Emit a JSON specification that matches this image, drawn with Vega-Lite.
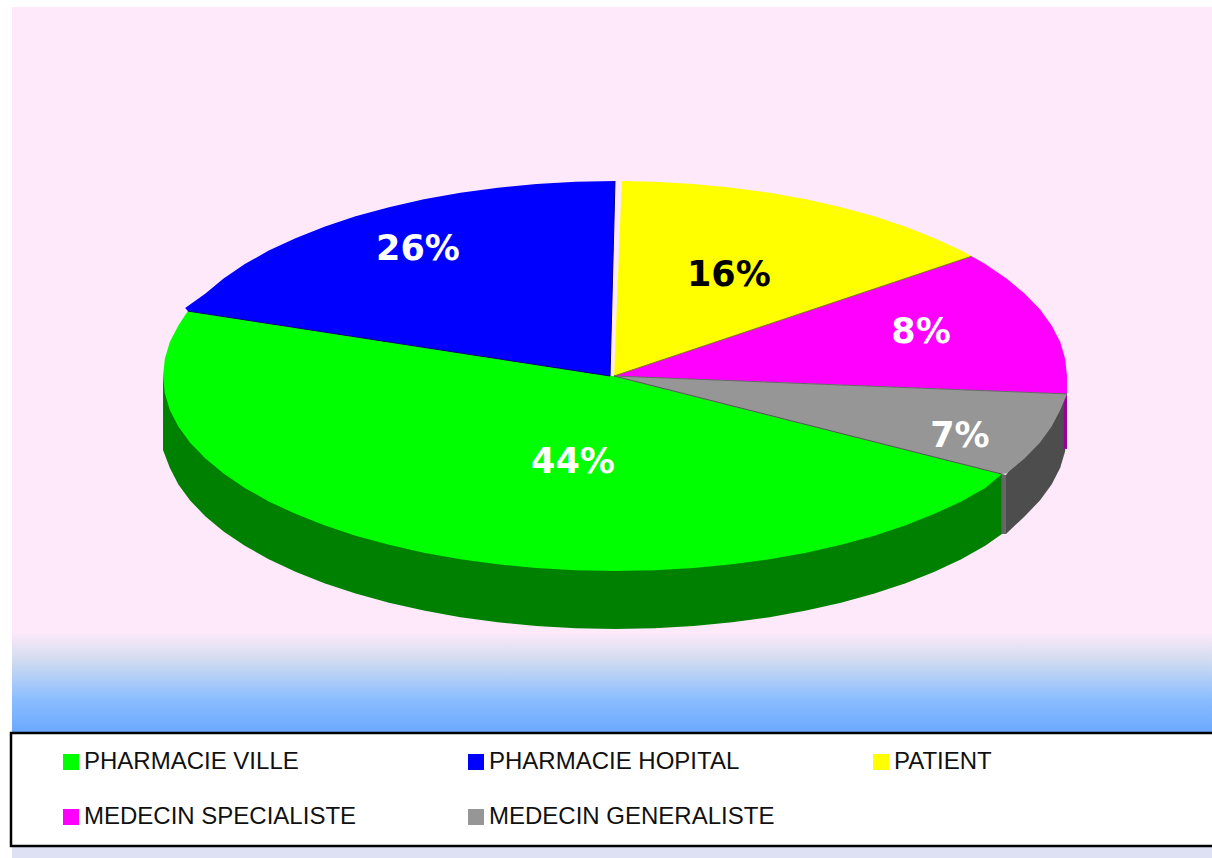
{
"$schema":"https://vega.github.io/schema/vega-lite/v6.json",
"width":1200,"height":851,
"autosize":{"type":"none"},
"padding":{"left":12,"top":7,"right":0,"bottom":0},
"background":"white",
"config":{"legend":{"strokeWidth":2.5}},
"view":{"stroke":null,"fill":{"gradient":"linear","x1":0,"y1":0,"x2":0,"y2":1,"stops":[
{"offset":0,"color":"#FEE9FA"},{"offset":0.734,"color":"#FEE9FA"},{"offset":0.767,"color":"#D2DCF0"},{"offset":0.814,"color":"#8ABDFF"},{"offset":0.853,"color":"#6AA8FF"},{"offset":0.854,"color":"#DDE1F3"},{"offset":1,"color":"#DDE1F3"}]}},
"datasets":{
"parts":[
{"categorie":"PHARMACIE VILLE","share":0.44,"lx":-0.093,"ly":-0.441},
{"categorie":"PHARMACIE HOPITAL","share":0.26,"lx":-0.436,"ly":0.651},
{"categorie":"PATIENT","share":0.16,"lx":0.252,"ly":0.518},
{"categorie":"MEDECIN SPECIALISTE","share":0.08,"lx":0.677,"ly":0.226},
{"categorie":"MEDECIN GENERALISTE","share":0.07,"lx":0.763,"ly":-0.308}
],
"sides":[
{"face":"vert","x":-1,"y":0},{"face":"vert","x":-1,"y":-0.38},{"face":"vert","x":-0.985,"y":-0.471},{"face":"vert","x":-0.966,"y":-0.556},{"face":"vert","x":-0.94,"y":-0.639},{"face":"vert","x":-0.906,"y":-0.72},{"face":"vert","x":-0.866,"y":-0.797},{"face":"vert","x":-0.819,"y":-0.871},{"face":"vert","x":-0.766,"y":-0.94},{"face":"vert","x":-0.707,"y":-1.004},{"face":"vert","x":-0.643,"y":-1.063},{"face":"vert","x":-0.574,"y":-1.116},{"face":"vert","x":-0.5,"y":-1.163},{"face":"vert","x":-0.423,"y":-1.203},{"face":"vert","x":-0.342,"y":-1.237},{"face":"vert","x":-0.259,"y":-1.263},{"face":"vert","x":-0.174,"y":-1.282},{"face":"vert","x":-0.087,"y":-1.293},{"face":"vert","x":0,"y":-1.297},{"face":"vert","x":0.087,"y":-1.293},{"face":"vert","x":0.174,"y":-1.282},{"face":"vert","x":0.259,"y":-1.263},{"face":"vert","x":0.342,"y":-1.237},{"face":"vert","x":0.423,"y":-1.203},{"face":"vert","x":0.5,"y":-1.163},{"face":"vert","x":0.574,"y":-1.116},{"face":"vert","x":0.643,"y":-1.063},{"face":"vert","x":0.707,"y":-1.004},{"face":"vert","x":0.766,"y":-0.94},{"face":"vert","x":0.819,"y":-0.871},{"face":"vert","x":0.856,"y":-0.81},{"face":"vert","x":0.856,"y":-0.503},
{"face":"mur","x":0.856,"y":-0.503},{"face":"mur","x":0.856,"y":-0.81},{"face":"mur","x":0.865,"y":-0.81},{"face":"mur","x":0.865,"y":-0.508},
{"face":"gris","x":0.865,"y":-0.508},{"face":"gris","x":0.865,"y":-0.81},{"face":"gris","x":0.906,"y":-0.72},{"face":"gris","x":0.94,"y":-0.639},{"face":"gris","x":0.966,"y":-0.556},{"face":"gris","x":0.985,"y":-0.471},{"face":"gris","x":0.996,"y":-0.384},{"face":"gris","x":0.996,"y":-0.09},
{"face":"magenta","x":0.993,"y":-0.062},{"face":"magenta","x":1.0,"y":-0.062},{"face":"magenta","x":1.0,"y":-0.374},{"face":"magenta","x":0.993,"y":-0.374}
],
"contours":[
{"categorie":"PHARMACIE VILLE","x":-0.004,"y":0},{"categorie":"PHARMACIE VILLE","x":0.856,"y":-0.503},{"categorie":"PHARMACIE VILLE","x":0.819,"y":-0.574},{"categorie":"PHARMACIE VILLE","x":0.766,"y":-0.643},{"categorie":"PHARMACIE VILLE","x":0.707,"y":-0.707},{"categorie":"PHARMACIE VILLE","x":0.643,"y":-0.766},{"categorie":"PHARMACIE VILLE","x":0.574,"y":-0.819},{"categorie":"PHARMACIE VILLE","x":0.5,"y":-0.866},{"categorie":"PHARMACIE VILLE","x":0.423,"y":-0.906},{"categorie":"PHARMACIE VILLE","x":0.342,"y":-0.94},{"categorie":"PHARMACIE VILLE","x":0.259,"y":-0.966},{"categorie":"PHARMACIE VILLE","x":0.174,"y":-0.985},{"categorie":"PHARMACIE VILLE","x":0.087,"y":-0.996},{"categorie":"PHARMACIE VILLE","x":0,"y":-1},{"categorie":"PHARMACIE VILLE","x":-0.087,"y":-0.996},{"categorie":"PHARMACIE VILLE","x":-0.174,"y":-0.985},{"categorie":"PHARMACIE VILLE","x":-0.259,"y":-0.966},{"categorie":"PHARMACIE VILLE","x":-0.342,"y":-0.94},{"categorie":"PHARMACIE VILLE","x":-0.423,"y":-0.906},{"categorie":"PHARMACIE VILLE","x":-0.5,"y":-0.866},{"categorie":"PHARMACIE VILLE","x":-0.574,"y":-0.819},{"categorie":"PHARMACIE VILLE","x":-0.643,"y":-0.766},{"categorie":"PHARMACIE VILLE","x":-0.707,"y":-0.707},{"categorie":"PHARMACIE VILLE","x":-0.766,"y":-0.643},{"categorie":"PHARMACIE VILLE","x":-0.819,"y":-0.574},{"categorie":"PHARMACIE VILLE","x":-0.866,"y":-0.5},{"categorie":"PHARMACIE VILLE","x":-0.906,"y":-0.423},{"categorie":"PHARMACIE VILLE","x":-0.94,"y":-0.342},{"categorie":"PHARMACIE VILLE","x":-0.966,"y":-0.259},{"categorie":"PHARMACIE VILLE","x":-0.985,"y":-0.174},{"categorie":"PHARMACIE VILLE","x":-0.996,"y":-0.087},{"categorie":"PHARMACIE VILLE","x":-1,"y":0},{"categorie":"PHARMACIE VILLE","x":-0.996,"y":0.087},{"categorie":"PHARMACIE VILLE","x":-0.985,"y":0.174},{"categorie":"PHARMACIE VILLE","x":-0.966,"y":0.259},{"categorie":"PHARMACIE VILLE","x":-0.945,"y":0.333},
{"categorie":"PHARMACIE HOPITAL","x":-0.011,"y":0},{"categorie":"PHARMACIE HOPITAL","x":-0.945,"y":0.333},{"categorie":"PHARMACIE HOPITAL","x":-0.951,"y":0.349},{"categorie":"PHARMACIE HOPITAL","x":-0.906,"y":0.423},{"categorie":"PHARMACIE HOPITAL","x":-0.866,"y":0.5},{"categorie":"PHARMACIE HOPITAL","x":-0.819,"y":0.574},{"categorie":"PHARMACIE HOPITAL","x":-0.766,"y":0.643},{"categorie":"PHARMACIE HOPITAL","x":-0.707,"y":0.707},{"categorie":"PHARMACIE HOPITAL","x":-0.643,"y":0.766},{"categorie":"PHARMACIE HOPITAL","x":-0.574,"y":0.819},{"categorie":"PHARMACIE HOPITAL","x":-0.5,"y":0.866},{"categorie":"PHARMACIE HOPITAL","x":-0.423,"y":0.906},{"categorie":"PHARMACIE HOPITAL","x":-0.342,"y":0.94},{"categorie":"PHARMACIE HOPITAL","x":-0.259,"y":0.966},{"categorie":"PHARMACIE HOPITAL","x":-0.174,"y":0.985},{"categorie":"PHARMACIE HOPITAL","x":-0.087,"y":0.996},{"categorie":"PHARMACIE HOPITAL","x":0,"y":1},
{"categorie":"PATIENT","x":-0.002,"y":0},{"categorie":"PATIENT","x":0.015,"y":1},{"categorie":"PATIENT","x":0.087,"y":0.996},{"categorie":"PATIENT","x":0.174,"y":0.985},{"categorie":"PATIENT","x":0.259,"y":0.966},{"categorie":"PATIENT","x":0.342,"y":0.94},{"categorie":"PATIENT","x":0.423,"y":0.906},{"categorie":"PATIENT","x":0.5,"y":0.866},{"categorie":"PATIENT","x":0.574,"y":0.819},{"categorie":"PATIENT","x":0.643,"y":0.766},{"categorie":"PATIENT","x":0.707,"y":0.707},{"categorie":"PATIENT","x":0.766,"y":0.643},{"categorie":"PATIENT","x":0.789,"y":0.614},
{"categorie":"MEDECIN SPECIALISTE","x":-0.002,"y":0},{"categorie":"MEDECIN SPECIALISTE","x":0.789,"y":0.614},{"categorie":"MEDECIN SPECIALISTE","x":0.819,"y":0.574},{"categorie":"MEDECIN SPECIALISTE","x":0.866,"y":0.5},{"categorie":"MEDECIN SPECIALISTE","x":0.906,"y":0.423},{"categorie":"MEDECIN SPECIALISTE","x":0.94,"y":0.342},{"categorie":"MEDECIN SPECIALISTE","x":0.966,"y":0.259},{"categorie":"MEDECIN SPECIALISTE","x":0.985,"y":0.174},{"categorie":"MEDECIN SPECIALISTE","x":0.996,"y":0.087},{"categorie":"MEDECIN SPECIALISTE","x":1,"y":0},{"categorie":"MEDECIN SPECIALISTE","x":1,"y":-0.092},
{"categorie":"MEDECIN GENERALISTE","x":-0.002,"y":0},{"categorie":"MEDECIN GENERALISTE","x":1,"y":-0.092},{"categorie":"MEDECIN GENERALISTE","x":0.985,"y":-0.174},{"categorie":"MEDECIN GENERALISTE","x":0.966,"y":-0.259},{"categorie":"MEDECIN GENERALISTE","x":0.94,"y":-0.342},{"categorie":"MEDECIN GENERALISTE","x":0.906,"y":-0.423},{"categorie":"MEDECIN GENERALISTE","x":0.866,"y":-0.5},{"categorie":"MEDECIN GENERALISTE","x":0.856,"y":-0.503}
],
"edges":[
{"edge":"bleu-vert","x":-0.011,"y":0},{"edge":"bleu-vert","x":-0.945,"y":0.333},
{"edge":"bleu-droit","x":-0.011,"y":0},{"edge":"bleu-droit","x":0,"y":1},
{"edge":"jaune-magenta","x":-0.002,"y":0},{"edge":"jaune-magenta","x":0.789,"y":0.614},
{"edge":"magenta-gris","x":-0.002,"y":0},{"edge":"magenta-gris","x":1,"y":-0.092},
{"edge":"gris-vert","x":-0.002,"y":0},{"edge":"gris-vert","x":0.856,"y":-0.503}
]
},
"encoding":{
"x":{"type":"quantitative","scale":{"domain":[-1.3341,1.3208],"nice":false,"zero":false},"axis":null},
"y":{"type":"quantitative","scale":{"domain":[-2.4718,1.8923],"nice":false,"zero":false},"axis":null}
},
"layer":[
{"data":{"name":"sides"},
 "transform":[{"window":[{"op":"row_number","as":"rang"}]}],
 "mark":{"type":"line","strokeWidth":0},
 "encoding":{
 "x":{"field":"x","type":"quantitative"},"y":{"field":"y","type":"quantitative"},
 "order":{"field":"rang","type":"quantitative"},
 "fill":{"field":"face","type":"nominal","legend":null,"scale":{"domain":["vert","mur","gris","magenta"],"range":["#008000","#666666","#4D4D4D","#990099"]}}}},
{"data":{"name":"contours"},
 "transform":[{"window":[{"op":"row_number","as":"rang"}]}],
 "mark":{"type":"line","strokeWidth":0},
 "encoding":{
 "x":{"field":"x","type":"quantitative"},"y":{"field":"y","type":"quantitative"},
 "order":{"field":"rang","type":"quantitative"},
 "fill":{"field":"categorie","type":"nominal",
  "scale":{"domain":["PHARMACIE VILLE","PHARMACIE HOPITAL","PATIENT","MEDECIN SPECIALISTE","MEDECIN GENERALISTE"],"range":["#00FF00","#0000FF","#FFFF00","#FF00FF","#969696"]},
  "legend":{"orient":"none","direction":"horizontal","legendX":-1,"legendY":726,"title":" ","titleOrient":"right","titlePadding":260,"columns":3,"gridAlign":"all","symbolType":"square","symbolSize":256,"symbolStrokeWidth":0,"symbolOffset":31,"labelFont":"Liberation Sans","labelFontSize":24,"labelColor":"#111111","labelOffset":1,"labelLimit":500,"fillColor":"white","strokeColor":"black","padding":17,"rowPadding":31,"columnPadding":63}}}},
{"data":{"name":"edges"},
 "mark":{"type":"line","strokeWidth":1},
 "encoding":{
 "x":{"field":"x","type":"quantitative"},"y":{"field":"y","type":"quantitative"},
 "stroke":{"field":"edge","type":"nominal","legend":null,"scale":{"domain":["bleu-vert","bleu-droit","jaune-magenta","magenta-gris","gris-vert"],"range":["#000080","#000080","#808000","#666666","#555555"]}}}},
{"data":{"name":"parts"},
 "mark":{"type":"text","font":"DejaVu Sans","fontWeight":"bold","fontSize":35,"align":"center","baseline":"middle"},
 "encoding":{
 "x":{"field":"lx","type":"quantitative"},"y":{"field":"ly","type":"quantitative"},
 "text":{"field":"share","type":"quantitative","format":".0%"},
 "color":{"condition":{"test":"datum.share === 0.16","value":"black"},"value":"white"}}}
],
"resolve":{"scale":{"fill":"independent","stroke":"independent"}}
}
